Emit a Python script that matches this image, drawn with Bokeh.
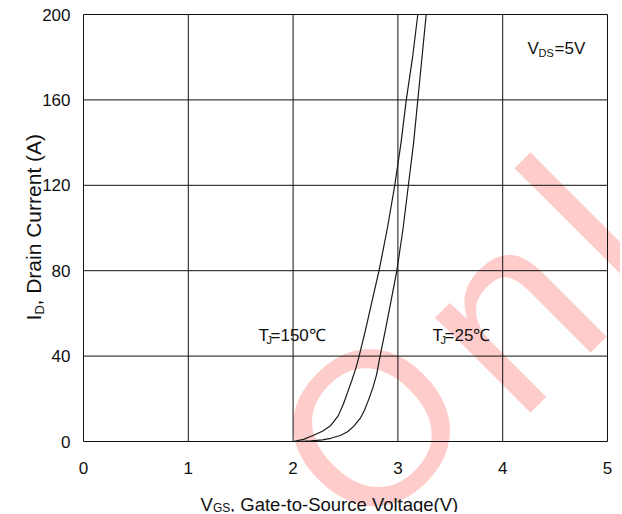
import math
from bokeh.plotting import figure
from bokeh.models import Range1d, Label
from bokeh.core.properties import value
from bokeh.embed import file_html
from bokeh.resources import INLINE

# ---- data ----
vgs_150 = [2.00, 2.10, 2.19, 2.28, 2.36, 2.43, 2.48, 2.52, 2.56, 2.60, 2.63, 2.69, 2.75, 2.82, 2.90, 2.97, 3.03, 3.08, 3.14, 3.19]
id_150 = [0, 1.0, 2.8, 4.8, 7.5, 12, 17.6, 23, 28.6, 34.5, 40, 52, 65, 80, 100, 120, 140, 160, 180, 200]

vgs_25 = [2.05, 2.17, 2.28, 2.36, 2.45, 2.52, 2.58, 2.64, 2.68, 2.72, 2.76, 2.795, 2.83, 2.88, 2.935, 2.99, 3.05, 3.10, 3.15, 3.19, 3.23, 3.27]
id_25 = [0, 0.3, 0.8, 1.5, 2.8, 4.6, 7.2, 10.8, 14.5, 19.5, 25, 31, 40, 52, 66, 80, 100, 120, 140, 160, 180, 200]

x_ticks = [0, 1, 2, 3, 4, 5]
y_ticks = [0, 40, 80, 120, 160, 200]
x_tick_labels = ["0", "1", "2", "3", "4", "5"]
y_tick_labels = ["0", "40", "80", "120", "160", "200"]

FONT = "Liberation Sans"
TXT = "#111111"
W, H = 620, 512

# canvas-pixel -> data helpers (plot box spans x 83..607, y 14..441)
def fx(px):
    return (px - 83) / 104.8

def fy(py):
    return (441 - py) / 2.135

p = figure(width=W, height=H, output_backend="svg", toolbar_location=None,
           x_range=Range1d(fx(0), fx(W)), y_range=Range1d(fy(H), fy(0)),
           x_axis_location=None, y_axis_location=None, min_border=0)
p.outline_line_color = None
p.grid.visible = False
p.background_fill_color = "white"
p.border_fill_color = "white"

# watermark letters (drawn first, underneath); anchors are letter centres
ang = math.radians(45)
wm_letters = ["O", "n", "l"]
wm_pos = [(371, 427), (505, 312), (590, 228)]
wm_size = ["218px", "255px", "255px"]
for ch, (px_, py_), sz in zip(wm_letters, wm_pos, wm_size):
    p.add_layout(Label(x=fx(px_), y=fy(py_), text=ch, angle=ang,
                       text_font=FONT, text_font_size=sz, text_color="#ff0000",
                       text_alpha=0.2, text_align="center", text_baseline="middle",
                       level="image"))

# grid / box lines from the tick arrays
nx, ny = len(x_ticks), len(y_ticks)
p.segment(x0=x_ticks, y0=[y_ticks[0]] * nx, x1=x_ticks, y1=[y_ticks[-1]] * nx,
          line_color="#111111", line_width=1)
p.segment(x0=[x_ticks[0]] * ny, y0=y_ticks, x1=[x_ticks[-1]] * ny, y1=y_ticks,
          line_color="#111111", line_width=1)

# tick labels
p.text(x=x_ticks, y=[y_ticks[0]] * nx, text=x_tick_labels, text_font=value(FONT),
       text_font_size="17px", text_color=TXT, text_align="center",
       text_baseline="middle", y_offset=26)
p.text(x=[x_ticks[0]] * ny, y=y_ticks, text=y_tick_labels, text_font=value(FONT),
       text_font_size="17px", text_color=TXT, text_align="right",
       text_baseline="middle", x_offset=-13)

# curves
p.line(vgs_150, id_150, line_color="#1a1a1a", line_width=1.2)
p.line(vgs_25, id_25, line_color="#1a1a1a", line_width=1.2)

def lab(px, py, text, size, angle=0.0):
    p.add_layout(Label(x=fx(px), y=fy(py), text=text, text_font=FONT,
                       text_font_size=size, text_color=TXT, angle=angle,
                       text_align="left", text_baseline="alphabetic"))

# x-axis title
lab(200, 504, "V", "18.5px")
lab(212.5, 507.5, "GS", "12px")
lab(229.5, 504, ", Gate-to-Source Voltage(V)", "18.5px")

# y-axis title (rotated)
lab(33, 320, "I", "21px", math.pi / 2)
lab(39, 314, "D", "13px", math.pi / 2)
lab(33, 305, ", Drain Current (A)", "21px", math.pi / 2)

# annotations
lab(258, 335, "T", "17px")
lab(266, 339, "J", "11px")
lab(270, 335, "=150\u2103", "17px")

lab(432, 335, "T", "17px")
lab(440, 339, "J", "11px")
lab(444, 335, "=25\u2103", "17px")

lab(527, 48, "V", "17px")
lab(538, 52, "DS", "11px")
lab(554, 48, "=5V", "17px")

open("out.html", "w").write(file_html(p, INLINE))
